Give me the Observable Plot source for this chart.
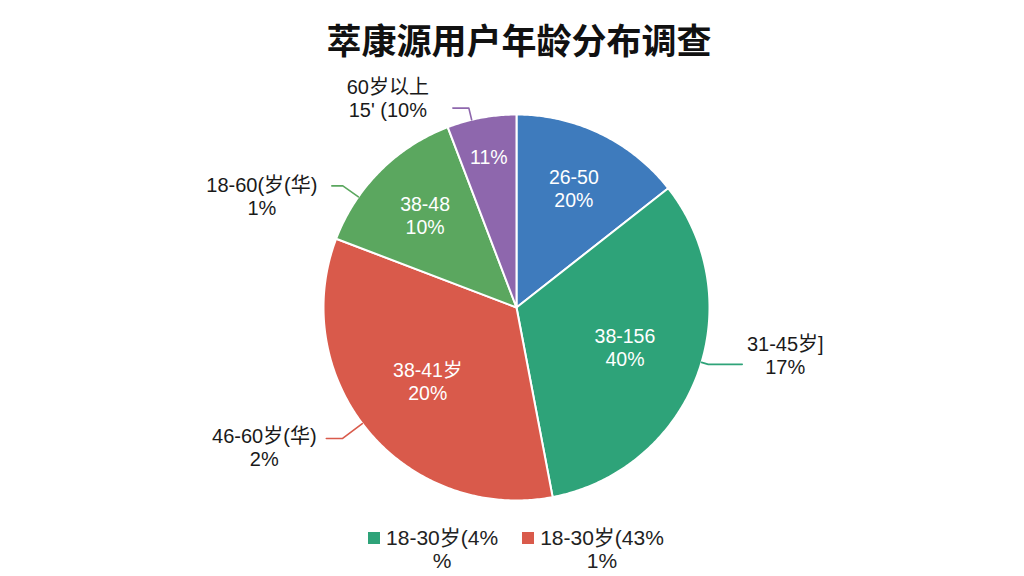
<!DOCTYPE html>
<html><head><meta charset="utf-8">
<script src="https://cdn.jsdelivr.net/npm/d3@7"></script>
<script src="https://cdn.jsdelivr.net/npm/@observablehq/plot@0.6"></script>
<style>
body{margin:0;background:#fff;font-family:"Noto Sans CJK SC","Noto Sans",sans-serif;width:1024px;height:576px;overflow:hidden;position:relative}
#title{position:absolute;left:0;top:0;width:1024px;padding-left:14px;box-sizing:border-box;height:76px;line-height:78px;text-align:center;font-size:35px;font-weight:bold;color:#111}
#chart{position:absolute;left:0;top:70px}
#legend{position:absolute;left:0;top:526px;width:1024px;display:flex;justify-content:center;gap:24px;padding-left:8px;box-sizing:border-box;color:#222;font-family:"Liberation Sans","Noto Sans CJK SC",sans-serif}
.item{display:flex;align-items:flex-start}
.sw{width:12px;height:12px;margin-top:6px;margin-right:6px}
.lab{text-align:center;line-height:23px;font-size:21px;white-space:pre}
</style></head>
<body>
<div id="title"></div>
<div id="chart"></div>
<div id="legend"></div>
<script>
// ---- data ----
const title = "萃康源用户年龄分布调查";
const sliceKeys = ["26-50", "38-156", "38-41岁", "38-48", "60岁以上"];
const sliceValues = [14.4, 32.6, 33.8, 13.4, 5.8];
const sliceColors = ["#3e7bbd", "#2ea379", "#d95a4b", "#5ba75f", "#8e67ad"];
const innerLabels = ["26-50\n20%", "38-156\n40%", "38-41岁\n20%", "38-48\n10%", "11%"];
const outerLabels = [null, "31-45岁]\n17%", "46-60岁(华)\n2%", "18-60(岁(华)\n1%", "60岁以上\n15' (10%"];
const legendKeys = ["38-156", "38-41岁"];
const legendLabels = ["18-30岁(4%\n%", "18-30岁(43%\n1%"];

// ---- layout (styling only) ----
const R = 193;
const innerR = [0.68, 0.6, 0.6, 0.67, 0.79];
const lineGap = 23;
const font = "Liberation Sans, Noto Sans CJK SC, sans-serif";
const leaderLayout = [
  null,
  {da: -4, re: 200, h: 34,  dx: 43, dy: -8},
  {da: 3,  re: 218, h: -16, dx: -62, dy: 10},
  {da: -10, re: 212, h: -11, dx: -70, dy: 11},
  {da: -3, re: 205, h: -16, dx: -65, dy: -9}
];

document.getElementById("title").textContent = title;

const arcs = d3.pie().sort(null).value(d => d)(sliceValues);
const polys = [];
arcs.forEach((a, i) => {
  const k = sliceKeys[i];
  polys.push({k, x: 0, y: 0});
  const n = Math.max(2, Math.ceil((a.endAngle - a.startAngle) / 0.01));
  for (let j = 0; j <= n; j++) {
    const t = a.startAngle + (a.endAngle - a.startAngle) * j / n;
    polys.push({k, x: R * Math.sin(t), y: R * Math.cos(t)});
  }
  polys.push({k, x: 0, y: 0});
});

function splitLines(text, x, y, k) {
  const lines = text.split("\n");
  return lines.map((t, j) => ({k, text: t, x, y: y - (j - (lines.length - 1) / 2) * lineGap}));
}

const inner = [];
arcs.forEach((a, i) => {
  const m = (a.startAngle + a.endAngle) / 2;
  inner.push(...splitLines(innerLabels[i], innerR[i] * R * Math.sin(m), innerR[i] * R * Math.cos(m), sliceKeys[i]));
});

const leaders = [];
const outer = [];
arcs.forEach((a, i) => {
  if (!outerLabels[i]) return;
  const k = sliceKeys[i];
  const L = leaderLayout[i];
  const m = (a.startAngle + a.endAngle) / 2 + L.da * Math.PI / 180;
  const p0 = {k, x: R * Math.sin(m), y: R * Math.cos(m)};
  const p1 = {k, x: L.re * Math.sin(m), y: L.re * Math.cos(m)};
  const p2 = {k, x: p1.x + L.h, y: p1.y};
  leaders.push(p0, p1, p2);
  outer.push(...splitLines(outerLabels[i], p2.x + L.dx, p2.y - L.dy, k));
});

const chart = Plot.plot({
  width: 1024,
  height: 450,
  margin: 0,
  style: {background: "transparent", overflow: "visible"},
  x: {domain: [-516, 508], range: [0, 1024], axis: null},
  y: {domain: [-213, 237], range: [450, 0], axis: null},
  color: {type: "ordinal", domain: sliceKeys, range: sliceColors},
  marks: [
    Plot.line(polys, {x: "x", y: "y", z: "k", fill: "k", stroke: "white", strokeWidth: 2, strokeLinejoin: "round"}),
    Plot.line(leaders, {x: "x", y: "y", z: "k", stroke: "k", strokeWidth: 1.6}),
    Plot.text(inner, {x: "x", y: "y", text: "text", fill: "white", fontSize: 19.5, fontFamily: font}),
    Plot.text(outer, {x: "x", y: "y", text: "text", fill: "#1a1a1a", fontSize: 20, fontFamily: font})
  ]
});
document.getElementById("chart").appendChild(chart);

const lg = document.getElementById("legend");
legendKeys.forEach((k, i) => {
  const it = document.createElement("div");
  it.className = "item";
  const sw = document.createElement("div");
  sw.className = "sw";
  sw.style.background = sliceColors[sliceKeys.indexOf(k)];
  const lab = document.createElement("div");
  lab.className = "lab";
  lab.textContent = legendLabels[i];
  it.appendChild(sw); it.appendChild(lab);
  lg.appendChild(it);
});
</script>
</body></html>
